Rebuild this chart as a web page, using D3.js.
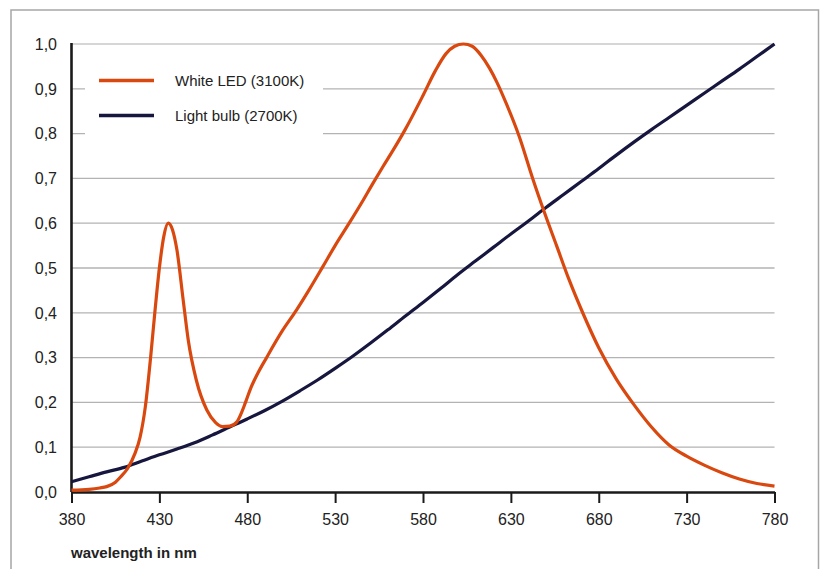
<!DOCTYPE html>
<html>
<head>
<meta charset="utf-8">
<script src="https://cdn.jsdelivr.net/npm/d3@7/dist/d3.min.js"></script>
<style>
  html, body { margin: 0; padding: 0; background: #fff; }
  svg { display: block; font-family: "Liberation Sans", Arial, Helvetica, sans-serif; }
</style>
</head>
<body>
<svg id="chart" width="825" height="569"></svg>
<script>
// Relative spectral intensity, normalised to 1.0

// White LED (3100K)
const ledWavelengths = [380, 390, 396, 400, 405, 408, 412, 416, 419, 422, 425, 427.4, 430, 432.5, 435, 437.5, 440, 443.5, 446.4, 451, 457, 462, 466, 470, 474, 476.5, 479, 482, 486, 491, 500, 508, 515, 523, 530, 538, 545, 551.5, 557, 563, 570, 580, 587, 593, 598, 603, 608, 613, 618, 622, 627.3, 634.8, 642.4, 649, 656, 663, 671, 680, 690, 700, 710, 720, 730, 740, 750, 760, 770, 780];
const ledValues = [0.004, 0.006, 0.009, 0.012, 0.022, 0.034, 0.053, 0.085, 0.122, 0.19, 0.30, 0.40, 0.50, 0.57, 0.60, 0.585, 0.54, 0.43, 0.34, 0.25, 0.183, 0.155, 0.146, 0.147, 0.156, 0.175, 0.2, 0.232, 0.265, 0.30, 0.36, 0.406, 0.45, 0.503, 0.55, 0.60, 0.645, 0.689, 0.725, 0.763, 0.81, 0.885, 0.94, 0.978, 0.995, 1.0, 0.995, 0.975, 0.945, 0.915, 0.868, 0.793, 0.70, 0.625, 0.55, 0.475, 0.399, 0.322, 0.252, 0.195, 0.145, 0.105, 0.08, 0.06, 0.043, 0.029, 0.019, 0.013];

// Light bulb (2700K)
const bulbWavelengths = [380, 390, 400, 410, 420, 430, 440, 450, 460, 470, 480, 490, 500, 510, 520, 530, 540, 550, 560, 570, 580, 590, 600, 610, 620, 630, 640, 650, 660, 670, 680, 690, 700, 710, 720, 730, 740, 750, 760, 770, 780];
const bulbValues = [0.023, 0.034, 0.045, 0.055, 0.069, 0.083, 0.096, 0.110, 0.127, 0.145, 0.163, 0.182, 0.203, 0.226, 0.250, 0.276, 0.303, 0.332, 0.362, 0.393, 0.423, 0.454, 0.486, 0.516, 0.546, 0.576, 0.605, 0.635, 0.664, 0.693, 0.722, 0.752, 0.781, 0.809, 0.836, 0.863, 0.890, 0.917, 0.944, 0.972, 1.000];

const xTicks = [380, 430, 480, 530, 580, 630, 680, 730, 780];
const yTicks = [0, 0.1, 0.2, 0.3, 0.4, 0.5, 0.6, 0.7, 0.8, 0.9, 1.0];

const seriesNames = ["White LED (3100K)", "Light bulb (2700K)"];
const seriesColors = ["#d9480f", "#16163e"];
const axisTitle = "wavelength in nm";

const svg = d3.select("#chart");

// frame around the whole figure
svg.append("rect")
  .attr("x", 11).attr("y", 10)
  .attr("width", 807.5).attr("height", 575)
  .attr("fill", "none")
  .attr("stroke", "#a6a6a6")
  .attr("stroke-width", 1.5);

const x = d3.scaleLinear().domain([380, 780]).range([71.5, 774.5]);
const y = d3.scaleLinear().domain([0, 1]).range([492, 44]);

const fmt = v => d3.format(".1f")(v).replace(".", ",");

// horizontal grid
svg.append("g")
  .selectAll("line")
  .data(yTicks.filter(d => d > 0))
  .join("line")
  .attr("x1", x(380)).attr("x2", x(780))
  .attr("y1", d => y(d)).attr("y2", d => y(d))
  .attr("stroke", d => d === 1 ? "#c8c8c8" : "#b3b3b3")
  .attr("stroke-width", 1.3);

// y tick labels
svg.append("g")
  .selectAll("text")
  .data(yTicks)
  .join("text")
  .attr("x", 57)
  .attr("y", d => y(d))
  .attr("dy", "0.36em")
  .attr("text-anchor", "end")
  .attr("font-size", 16)
  .attr("fill", "#222")
  .text(fmt);

// x axis
const xAxis = d3.axisBottom(x)
  .tickValues(xTicks)
  .tickFormat(d3.format("d"))
  .tickSize(11)
  .tickSizeOuter(0);

const gx = svg.append("g")
  .attr("transform", `translate(0,${y(0)})`)
  .call(xAxis);
gx.select(".domain").attr("stroke", "#1a1a1a").attr("stroke-width", 2.6);
gx.selectAll(".tick line").attr("stroke", "#1a1a1a").attr("stroke-width", 2);
gx.selectAll(".tick text")
  .attr("font-family", "Liberation Sans, Arial, sans-serif")
  .attr("font-size", 16)
  .attr("fill", "#222")
  .attr("y", 22)
  .attr("dy", "0.71em");

// y axis line
svg.append("line")
  .attr("x1", x(380)).attr("x2", x(380))
  .attr("y1", y(1) - 1).attr("y2", y(0))
  .attr("stroke", "#1a1a1a")
  .attr("stroke-width", 2.6);

// axis title
svg.append("text")
  .attr("x", 71)
  .attr("y", 558)
  .attr("font-size", 15)
  .attr("font-weight", "bold")
  .attr("fill", "#222")
  .text(axisTitle);

// spectra
const line = d3.line()
  .x(d => x(d[0]))
  .y(d => y(d[1]))
  .curve(d3.curveMonotoneX);

const bulbData = d3.zip(bulbWavelengths, bulbValues);
const ledData = d3.zip(ledWavelengths, ledValues);

svg.append("path")
  .datum(bulbData)
  .attr("d", line)
  .attr("fill", "none")
  .attr("stroke", seriesColors[1])
  .attr("stroke-width", 3.2)
  .attr("stroke-linejoin", "round");

svg.append("path")
  .datum(ledData)
  .attr("d", line)
  .attr("fill", "none")
  .attr("stroke", seriesColors[0])
  .attr("stroke-width", 3.2)
  .attr("stroke-linejoin", "round");

// legend
const legend = svg.append("g");
legend.append("rect")
  .attr("x", 85).attr("y", 54)
  .attr("width", 238).attr("height", 94)
  .attr("fill", "#fff");

const items = legend.selectAll("g.item")
  .data(seriesNames)
  .join("g")
  .attr("class", "item")
  .attr("transform", (d, i) => `translate(0,${80.5 + i * 35})`);

items.append("line")
  .attr("x1", 99).attr("x2", 154)
  .attr("y1", 0).attr("y2", 0)
  .attr("stroke", (d, i) => seriesColors[i])
  .attr("stroke-width", 3.6);

items.append("text")
  .attr("x", 175)
  .attr("y", 0)
  .attr("dy", "0.36em")
  .attr("font-size", 15)
  .attr("fill", "#222")
  .text(d => d);
</script>
</body>
</html>
